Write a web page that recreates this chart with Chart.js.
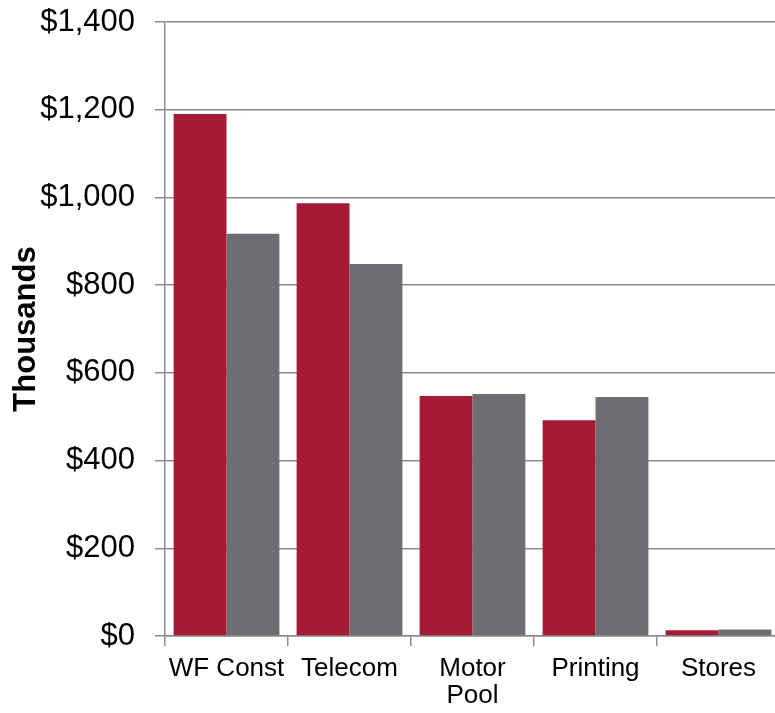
<!DOCTYPE html>
<html>
<head>
<meta charset="utf-8">
<script src="https://cdn.jsdelivr.net/npm/chart.js@4"></script>
<style>
  html, body { margin: 0; padding: 0; background: #fff; overflow: hidden; }
  #wrap { width: 780px; height: 713px; }
</style>
</head>
<body>
<div id="wrap"><canvas id="myChart" width="780" height="713"></canvas></div>
<script>
// Dados do gráfico
const categories = ['WF Const', 'Telecom', ['Motor', 'Pool'], 'Printing', 'Stores'];
const seriesRed = [1190, 987, 547, 492, 13];
const seriesGray = [917, 848, 552, 545, 15];
const yTicks = [0, 200, 400, 600, 800, 1000, 1200, 1400];

const fontFamily = "'Liberation Sans', Arial, sans-serif";
const gridColor = '#8c8c8c';

const data = {
    labels: categories,
    datasets: [{
        label: 'Series 1',
        data: seriesRed,
        backgroundColor: '#a51b35',
        borderWidth: 0
    }, {
        label: 'Series 2',
        data: seriesGray,
        backgroundColor: '#6d6e71',
        borderWidth: 0
    }]
};

const options = {
    responsive: false,
    animation: false,
    layout: { padding: { top: 22, right: 0, left: 8, bottom: 0 } },
    plugins: { legend: { display: false }, tooltip: { enabled: false } },
    datasets: { bar: { categoryPercentage: 0.86, barPercentage: 1.0 } },
    scales: {
        x: {
            grid: { drawOnChartArea: false, drawTicks: true, tickLength: 10, color: gridColor, lineWidth: 1.5 },
            border: { color: gridColor, width: 1.5 },
            ticks: { color: '#000', font: { family: fontFamily, size: 26, lineHeight: 1.05 }, padding: 9, maxRotation: 0, autoSkip: false },
            afterFit: (scale) => {
                scale.height = 77;
                scale.paddingLeft = 0;
                scale.paddingRight = 0;
            }
        },
        y: {
            min: 0,
            max: 1400,
            afterBuildTicks: (scale) => { scale.ticks = yTicks.map(v => ({ value: v })); },
            grid: { color: gridColor, lineWidth: 1.5, tickLength: 10 },
            border: { color: gridColor, width: 1.5 },
            ticks: {
                color: '#000',
                font: { family: fontFamily, size: 31 },
                padding: 20,
                callback: (v) => '$' + v.toLocaleString('en-US')
            },
            title: {
                display: true,
                text: 'Thousands',
                color: '#000',
                font: { family: fontFamily, size: 31, weight: 'bold' },
                padding: 0
            },
            afterFit: (scale) => {
                scale.width = 157;
                scale.paddingTop = 0;
                scale.paddingBottom = 0;
            }
        }
    }
};

const ctx = document.getElementById('myChart').getContext('2d');
const myChart = new Chart(ctx, { type: 'bar', data: data, options: options });
</script>
</body>
</html>
